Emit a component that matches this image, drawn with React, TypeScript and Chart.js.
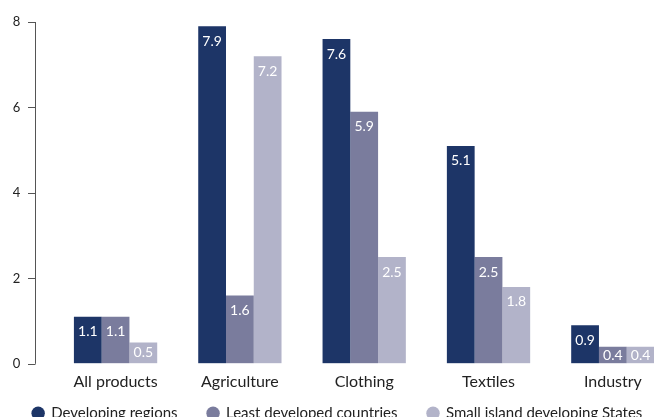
import React, { useEffect, useRef } from "react";
import { Chart, registerables } from "chart.js";

Chart.register(...registerables);

const categories = ["All products", "Agriculture", "Clothing", "Textiles", "Industry"];
const seriesNames = ["Developing regions", "Least developed countries", "Small island developing States"];
const developingRegions = [1.1, 7.9, 7.6, 5.1, 0.9];
const leastDeveloped = [1.1, 1.6, 5.9, 2.5, 0.4];
const smallIsland = [0.5, 7.2, 2.5, 1.8, 0.4];
const yTicks = [0, 2, 4, 6, 8];
const colors = ["#1d3567", "#7a7c9d", "#b2b3c9"];

const FONT = "Lato, 'Open Sans', sans-serif";

const offsetAxisPlugin = {
  id: "offsetAxis",
  afterDraw(chart: any) {
    const { ctx, scales } = chart;
    const y = scales.y;
    const x0 = 35;
    ctx.save();
    ctx.strokeStyle = "#555";
    ctx.lineWidth = 1;
    ctx.beginPath();
    ctx.moveTo(x0 + 0.5, y.getPixelForValue(8));
    ctx.lineTo(x0 + 0.5, y.getPixelForValue(0));
    yTicks.forEach((t) => {
      const py = Math.round(y.getPixelForValue(t)) + 0.5;
      ctx.moveTo(x0 - 7, py);
      ctx.lineTo(x0 + 0.5, py);
    });
    ctx.stroke();
    ctx.restore();
  },
};

const legendShiftPlugin = {
  id: "legendShift",
  afterLayout(chart: any) {
    const lg = chart.legend;
    if (!lg) return;
    const top = chart.chartArea.bottom + 12;
    lg.top = top;
    lg.bottom = top + lg.height;
  },
};

const barLabelPlugin = {
  id: "barLabels",
  afterDatasetsDraw(chart: any) {
    const { ctx } = chart;
    ctx.save();
    ctx.fillStyle = "#ffffff";
    ctx.font = `14px ${FONT}`;
    ctx.textAlign = "center";
    ctx.textBaseline = "middle";
    chart.data.datasets.forEach((ds: any, di: number) => {
      const meta = chart.getDatasetMeta(di);
      meta.data.forEach((bar: any, i: number) => {
        const h = bar.base - bar.y;
        const off = Math.min(15, h / 2);
        ctx.fillText(ds.data[i].toFixed(1), bar.x, bar.y + off);
      });
    });
    ctx.restore();
  },
};

export default function App() {
  const ref = useRef<HTMLCanvasElement>(null);
  useEffect(() => {
    if (!ref.current) return;
    const data = [developingRegions, leastDeveloped, smallIsland];
    const chart = new Chart(ref.current, {
      type: "bar",
      data: {
        labels: categories,
        datasets: data.map((d, i) => ({
          label: seriesNames[i],
          data: d,
          backgroundColor: colors[i],
          borderWidth: 0,
          categoryPercentage: 0.67,
          barPercentage: 1.0,
          pointStyle: "circle",
        })),
      },
      options: {
        responsive: false,
        animation: false,
        layout: { padding: { top: 22, left: 0, right: 0, bottom: 0 } },
        scales: {
          x: {
            grid: { display: false, drawTicks: false },
            border: { display: false },
            ticks: { color: "#222", font: { family: FONT, size: 16 }, padding: 8 },
          },
          y: {
            min: 0,
            max: 8,
            grid: {
              display: true,
              drawOnChartArea: false,
              drawTicks: true,
              tickLength: 33,
              color: "rgba(0,0,0,0)",
            },
            border: { display: false },
            ticks: {
              stepSize: 2,
              color: "#222",
              font: { family: FONT, size: 13 },
              padding: 0,
            },
            afterFit(scale: any) {
              scale.width = 53.4;
            },
          },
        },
        plugins: {
          legend: {
            position: "bottom",
            labels: {
              usePointStyle: true,
              boxWidth: 11,
              boxHeight: 9.5,
              padding: 30,
              color: "#222",
              font: { family: FONT, size: 15 },
            },
          },
          tooltip: { enabled: false },
        },
      },
      plugins: [offsetAxisPlugin, barLabelPlugin, legendShiftPlugin],
    });
    return () => chart.destroy();
  }, []);
  return (
    <div style={{ position: "absolute", left: 0, top: 0, width: 654, height: 417, overflow: "hidden", background: "#fff" }}>
      <canvas ref={ref} width={675} height={454} style={{ display: "block" }} />
    </div>
  );
}
